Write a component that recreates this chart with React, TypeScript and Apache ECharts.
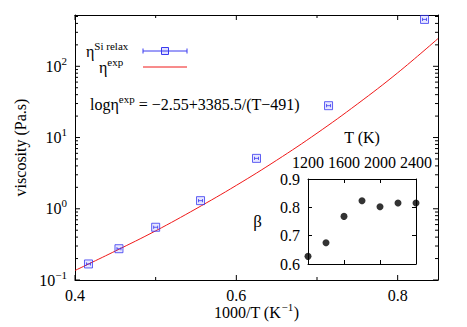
import React, { useEffect, useRef } from "react";
import * as echarts from "echarts";

// main panel data
const invT = [0.4167, 0.4545, 0.5, 0.5556, 0.625, 0.7143, 0.8333];
const etaSiRelax = [0.168, 0.275, 0.55, 1.3, 5.1, 28, 455];
const fitInvT = [0.4, 0.45, 0.5, 0.55, 0.6, 0.65, 0.7, 0.75, 0.8, 0.85];
const etaExp = [0.136, 0.255, 0.49, 1.0, 2.13, 4.8, 11.5, 29.5, 81, 245];
// inset data
const insetT = [1200, 1400, 1600, 1800, 2000, 2200, 2400];
const beta = [0.627, 0.675, 0.768, 0.823, 0.802, 0.815, 0.815];
// ticks
const xMajorTicks = [0.4, 0.6, 0.8];
const xMinorTicks = [0.5, 0.7];
const yDecades = [0.1, 1, 10, 100];
const yMinorMultipliers = [2, 3, 4, 5, 6, 7, 8, 9];

const FONT = "Liberation Serif";
const BLUE = "#3a3af0";
const RED = "#f01818";

const G = { left: 75, top: 15, right: 438, bottom: 280 };
const GI = { left: 308, top: 179, right: 416, bottom: 264 };

const squarePath =
  "path://M0,0 L10,0 L10,10 L0,10 Z M2.5,5 L7.5,5 M2.5,3 L2.5,7 M7.5,3 L7.5,7";

function measure(text: string, size: number): number {
  const c = document.createElement("canvas").getContext("2d");
  if (!c) return text.length * size * 0.5;
  c.font = `${size}px "${FONT}"`;
  return c.measureText(text).width;
}

export default function App() {
  const ref = useRef<HTMLDivElement>(null);
  useEffect(() => {
    if (!ref.current) return;
    const chart = echarts.init(ref.current, null, { renderer: "svg" });
    const supRich = {
      b: { fontFamily: FONT, fontSize: 16, color: "#000", lineHeight: 22 },
      s: {
        fontFamily: FONT,
        fontSize: 11,
        color: "#000",
        lineHeight: 13,
        verticalAlign: "top",
      },
    };
    const option: any = {
      animation: false,
      backgroundColor: "#fff",
      textStyle: { fontFamily: FONT },
      grid: [
        {
          left: G.left,
          top: G.top,
          width: G.right - G.left,
          height: G.bottom - G.top,
          containLabel: false,
        },
        {
          left: GI.left,
          top: GI.top,
          width: GI.right - GI.left,
          height: GI.bottom - GI.top,
          containLabel: false,
          show: true,
          backgroundColor: "#fff",
          borderWidth: 0,
          z: 5,
        },
      ],
      xAxis: [
        {
          type: "value",
          gridIndex: 0,
          position: "bottom",
          min: 0.4,
          max: 0.85,
          interval: 0.2,
          axisLine: { lineStyle: { color: "#000", width: 1 } },
          axisTick: { show: false },
          splitLine: { show: false },
          axisLabel: {
            fontFamily: FONT,
            fontSize: 16,
            lineHeight: 12,
            color: "#000",
            margin: 9,
            showMaxLabel: false,
            formatter: (v: number) => v.toFixed(1),
          },
        },
        {
          type: "value",
          gridIndex: 0,
          position: "top",
          min: 0.4,
          max: 0.85,
          interval: 0.2,
          axisLine: { lineStyle: { color: "#000", width: 1 } },
          axisTick: { show: false },
          splitLine: { show: false },
          axisLabel: { show: false },
        },
        {
          type: "value",
          gridIndex: 1,
          position: "top",
          min: 1200,
          max: 2400,
          interval: 400,
          name: "T (K)",
          nameLocation: "middle",
          nameGap: 34,
          nameTextStyle: { fontFamily: FONT, fontSize: 16, color: "#000" },
          axisLine: { lineStyle: { color: "#000", width: 1 } },
          axisTick: { inside: true, length: 4, lineStyle: { color: "#000" } },
          splitLine: { show: false },
          axisLabel: {
            fontFamily: FONT,
            fontSize: 16,
            color: "#000",
            margin: 9,
            formatter: (v: number) => String(v),
          },
          z: 6,
        },
        {
          type: "value",
          gridIndex: 1,
          position: "bottom",
          min: 1200,
          max: 2400,
          interval: 400,
          axisLine: { lineStyle: { color: "#000", width: 1 } },
          axisTick: { inside: true, length: 4, lineStyle: { color: "#000" } },
          splitLine: { show: false },
          axisLabel: { show: false },
          z: 6,
        },
      ],
      yAxis: [
        {
          type: "log",
          logBase: 10,
          gridIndex: 0,
          position: "left",
          min: 0.1,
          max: 525,
          name: "viscosity (Pa.s)",
          nameLocation: "middle",
          nameGap: 46,
          nameTextStyle: { fontFamily: FONT, fontSize: 16, color: "#000" },
          axisLine: { lineStyle: { color: "#000", width: 1 } },
          axisTick: { show: false },
          splitLine: { show: false },
          axisLabel: {
            margin: 8,
            showMaxLabel: false,
            formatter: (v: number) => {
              const e = Math.round(Math.log10(v));
              return `{b|10}{s|${e < 0 ? "\u2212" + -e : e}}`;
            },
            rich: supRich,
          },
        },
        {
          type: "log",
          logBase: 10,
          gridIndex: 0,
          position: "right",
          min: 0.1,
          max: 525,
          axisLine: { lineStyle: { color: "#000", width: 1 } },
          axisTick: { show: false },
          splitLine: { show: false },
          axisLabel: { show: false },
        },
        {
          type: "value",
          gridIndex: 1,
          position: "left",
          min: 0.6,
          max: 0.9,
          interval: 0.1,
          name: "\u03b2",
          nameLocation: "middle",
          nameRotate: 0,
          nameGap: 46,
          nameTextStyle: { fontFamily: FONT, fontSize: 17, color: "#000" },
          axisLine: { lineStyle: { color: "#000", width: 1 } },
          axisTick: { inside: true, length: 4, lineStyle: { color: "#000" } },
          splitLine: { show: false },
          axisLabel: {
            fontFamily: FONT,
            fontSize: 16,
            color: "#000",
            margin: 8,
            formatter: (v: number) => v.toFixed(1),
          },
          z: 6,
        },
        {
          type: "value",
          gridIndex: 1,
          position: "right",
          min: 0.6,
          max: 0.9,
          interval: 0.1,
          axisLine: { lineStyle: { color: "#000", width: 1 } },
          axisTick: { inside: true, length: 4, lineStyle: { color: "#000" } },
          splitLine: { show: false },
          axisLabel: { show: false },
          z: 6,
        },
      ],
      series: [
        {
          type: "line",
          xAxisIndex: 0,
          yAxisIndex: 0,
          data: fitInvT.map((x, i) => [x, etaExp[i]]),
          smooth: 0.4,
          showSymbol: false,
          symbol: "none",
          lineStyle: { color: RED, width: 1 },
          z: 2,
        },
        {
          type: "scatter",
          xAxisIndex: 0,
          yAxisIndex: 0,
          data: invT.map((x, i) => [x, etaSiRelax[i]]),
          symbol: squarePath,
          symbolSize: 8,
          itemStyle: {
            color: "rgba(90,90,255,0.18)",
            borderColor: BLUE,
            borderWidth: 1,
          },
          z: 3,
        },
        {
          type: "scatter",
          xAxisIndex: 2,
          yAxisIndex: 2,
          data: insetT.map((t, i) => [t, beta[i]]),
          symbol: "circle",
          symbolSize: 7,
          itemStyle: { color: "#000" },
          z: 7,
        },
      ],
    };
    chart.setOption(option);

    const px = (v: number) => chart.convertToPixel({ xAxisIndex: 0 }, v) as number;
    const py = (v: number) => chart.convertToPixel({ yAxisIndex: 0 }, v) as number;
    const tick = (x1: number, y1: number, x2: number, y2: number) => ({
      type: "line",
      shape: { x1, y1, x2, y2 },
      style: { stroke: "#000", lineWidth: 1 },
      silent: true,
    });
    const ticks: any[] = [];
    const MAJ = 5;
    const MIN = 3;
    xMajorTicks.forEach((v) => {
      const x = px(v);
      ticks.push(tick(x, G.bottom, x, G.bottom - MAJ));
      ticks.push(tick(x, G.top, x, G.top + MAJ));
    });
    xMinorTicks.forEach((v) => {
      const x = px(v);
      ticks.push(tick(x, G.bottom, x, G.bottom - MIN));
      ticks.push(tick(x, G.top, x, G.top + MIN));
    });
    yDecades.forEach((d) => {
      const y = py(d);
      ticks.push(tick(G.left, y, G.left + MAJ, y));
      ticks.push(tick(G.right, y, G.right - MAJ, y));
      yMinorMultipliers.forEach((m) => {
        const v = d * m;
        if (v > 525) return;
        const ym = py(v);
        ticks.push(tick(G.left, ym, G.left + MIN, ym));
        ticks.push(tick(G.right, ym, G.right - MIN, ym));
      });
    });

    function tickLine(x1: number, y1: number, x2: number, y2: number, c: string) {
      return {
        type: "line",
        shape: { x1, y1, x2, y2 },
        style: { stroke: c, lineWidth: 1 },
      };
    }

    // x-axis title built from pieces so the superscript can be raised
    const t1 = "1000/T (K";
    const t2 = "\u22121";
    const t3 = ")";
    const w1 = measure(t1, 16);
    const w2 = measure(t2, 11);
    const w3 = measure(t3, 16);
    const tx0 = 256 - (w1 + w2 + w3) / 2;
    const titleY = 312;
    const plain = (x: number, y: number, text: string, size: number) => ({
      type: "text",
      x,
      y,
      style: {
        text,
        fontFamily: FONT,
        fontSize: size,
        lineHeight: size <= 11 ? 11 : 14,
        fill: "#000",
        verticalAlign: "middle",
        align: "left",
      },
    });

    const legendX1 = 143;
    const legendX2 = 187;
    const legendY1 = 51;
    const legendY2 = 67;
    const graphic: any[] = [
      ...ticks,
      {
        type: "text",
        x: 86,
        y: legendY1,
        style: {
          text: "{b|\u03b7}{s|Si relax}",
          rich: supRich,
          verticalAlign: "middle",
          align: "left",
        },
      },
      {
        type: "text",
        x: 99,
        y: legendY2,
        style: {
          text: "{b|\u03b7}{s|exp}",
          rich: supRich,
          verticalAlign: "middle",
          align: "left",
        },
      },
      tickLine(legendX1, legendY1, legendX2, legendY1, BLUE),
      tickLine(legendX1, legendY1 - 2.5, legendX1, legendY1 + 2.5, BLUE),
      tickLine(legendX2, legendY1 - 2.5, legendX2, legendY1 + 2.5, BLUE),
      {
        type: "rect",
        shape: { x: (legendX1 + legendX2) / 2 - 3.5, y: legendY1 - 3.5, width: 7, height: 7 },
        style: { fill: "rgba(90,90,255,0.18)", stroke: BLUE, lineWidth: 1 },
      },
      tickLine(legendX1, legendY2, legendX2, legendY2, RED),
      {
        type: "text",
        x: 90,
        y: 104,
        style: {
          text: "{b|log\u03b7}{s|exp}{b| = \u22122.55+3385.5/(T\u2212491)}",
          rich: supRich,
          verticalAlign: "middle",
          align: "left",
        },
      },
      plain(tx0, titleY, t1, 16),
      plain(tx0 + w1 + 0.5, titleY - 5, t2, 11),
      plain(tx0 + w1 + w2 + 1, titleY, t3, 16),
    ];
    chart.setOption({ graphic });

    return () => chart.dispose();
  }, []);
  return (
    <div
      ref={ref}
      style={{ position: "fixed", left: 0, top: 0, width: 467, height: 327 }}
    />
  );
}
